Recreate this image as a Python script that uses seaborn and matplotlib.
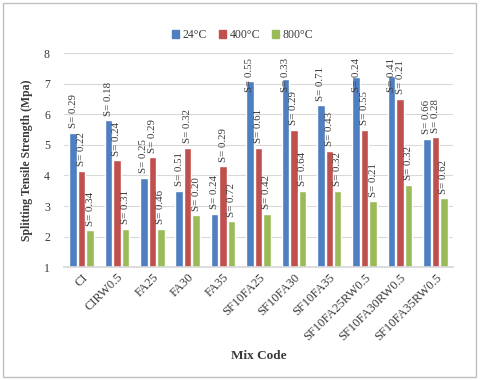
import pandas as pd
import matplotlib.pyplot as plt
import matplotlib.patches as mpatches
import seaborn as sns

mix_codes = ['CI', 'CIRW0.5', 'FA25', 'FA30', 'FA35', 'SF10FA25', 'SF10FA30',
             'SF10FA35', 'SF10FA25RW0.5', 'SF10FA30RW0.5', 'SF10FA35RW0.5']
temps = ['24°C', '400°C', '800°C']

strength_24 = [5.4, 5.8, 3.92, 3.5, 2.75, 7.1, 7.15, 6.3, 7.22, 7.25, 5.2]
strength_400 = [4.15, 4.5, 4.6, 4.9, 4.3, 4.9, 5.5, 4.8, 5.5, 6.5, 5.25]
strength_800 = [2.2, 2.25, 2.25, 2.7, 2.5, 2.75, 3.5, 3.5, 3.15, 3.7, 3.25]

sd_24 = ['0.29', '0.18', '0.25', '0.51', '0.24', '0.55', '0.33', '0.71', '0.24', '0.41', '0.66']
sd_400 = ['0.22', '0.24', '0.29', '0.32', '0.29', '0.61', '0.29', '0.43', '0.55', '0.21', '0.28']
sd_800 = ['0.34', '0.31', '0.46', '0.20', '0.72', '0.42', '0.64', '0.32', '0.21', '0.32', '0.62']

rows = []
for vals, sds, t in [(strength_24, sd_24, temps[0]),
                     (strength_400, sd_400, temps[1]),
                     (strength_800, sd_800, temps[2])]:
    for code, v, s in zip(mix_codes, vals, sds):
        rows.append({'Mix Code': code, 'Strength': v, 'SD': s, 'Temp': t})
df = pd.DataFrame(rows)

sns.set_theme(style="white")
plt.rcParams['font.family'] = ['Liberation Serif', 'DejaVu Serif']

palette = {'24°C': '#4F7FC0', '400°C': '#C0504D', '800°C': '#9BBB59'}
text_col = '#3A3A3A'

fig = plt.figure(figsize=(4.8, 3.8), dpi=100)
ax = fig.add_axes([0.133, 0.297, 0.811, 0.563])

sns.barplot(data=df, x='Mix Code', y='Strength', hue='Temp',
            order=mix_codes, hue_order=temps, palette=palette,
            width=0.72, gap=0.12, saturation=1, legend=False, ax=ax)

ax.set_ylim(1, 8)
ax.set_yticks(range(1, 9))
ax.yaxis.grid(True, color='#D9D9D9', linewidth=0.8)
ax.set_axisbelow(True)
for name, spine in ax.spines.items():
    spine.set_visible(name == 'bottom')
ax.spines['bottom'].set_color('#D9D9D9')
ax.tick_params(axis='both', length=0, colors=text_col)
ax.tick_params(axis='y', pad=10, labelsize=8.5)
ax.tick_params(axis='x', pad=3, labelsize=9)
plt.setp(ax.get_xticklabels(), rotation=45, ha='right', rotation_mode='anchor')

ax.set_xlabel('Mix Code', fontsize=9.5, fontweight='bold', color=text_col, labelpad=5)
ax.set_ylabel('Splitting Tensile Strength (Mpa)', fontsize=8.5, fontweight='bold',
              color=text_col, labelpad=8)

# rotated S= labels above each bar
for bar, (_, r) in zip(ax.patches, df.iterrows()):
    x = bar.get_x() + bar.get_width() / 2
    h = bar.get_height()
    label = f"S= {r['SD']}"
    if h + 1.2 > 8:
        ax.text(x, 7.85, label, rotation=90, ha='center', va='top',
                fontsize=7.8, color=text_col)
    else:
        ax.text(x, h + 0.15, label, rotation=90, ha='center', va='bottom',
                fontsize=7.8, color=text_col)

handles = [mpatches.Patch(color=palette[t], label=t) for t in temps]
fig.legend(handles=handles, loc='center', bbox_to_anchor=(0.505, 0.908), ncol=3,
           frameon=False, fontsize=8.5, handlelength=0.6, handleheight=0.6,
           handletextpad=0.3, columnspacing=1.0, labelcolor=text_col)

fig.patches.append(mpatches.Rectangle((0.006, 0.008), 0.986, 0.984,
                                      transform=fig.transFigure, fill=False,
                                      edgecolor='#BFBFBF', linewidth=1))

fig.savefig('out.png', dpi=100)
